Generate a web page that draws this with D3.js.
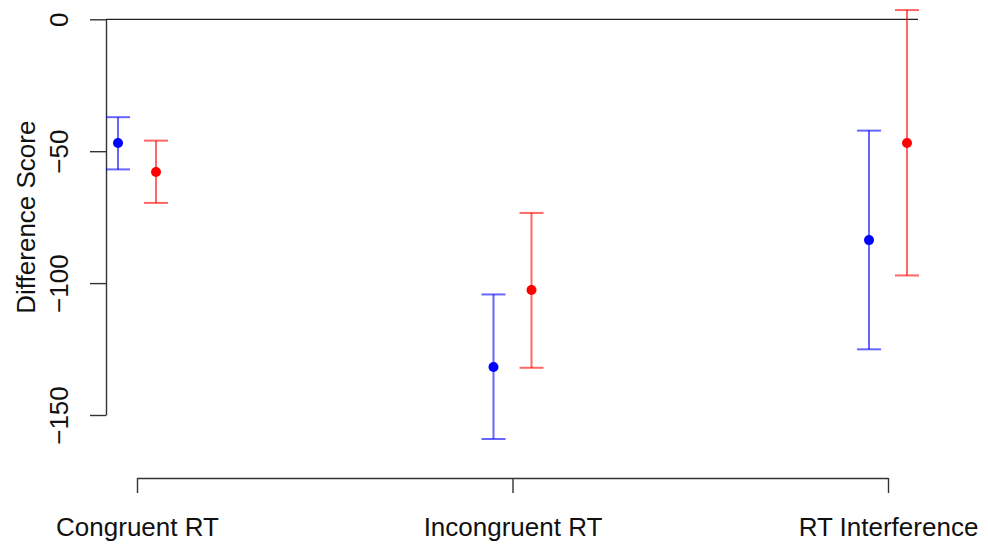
<!DOCTYPE html>
<html>
<head>
<meta charset="utf-8">
<script src="https://cdn.jsdelivr.net/npm/d3@7"></script>
<style>
  body { margin: 0; background: #fff; }
  svg { display: block; font-family: "Liberation Sans", Arial, sans-serif; }
</style>
</head>
<body>
<div id="chart"></div>
<script>
// values
var categories = ['Congruent RT', 'Incongruent RT', 'RT Interference'];
var blueMean = [-46.9, -131.8, -83.7];
var blueLo   = [-56.9, -159.1, -125.1];
var blueHi   = [-37.1, -104.3, -42.2];
var redMean  = [-57.9, -102.6, -46.9];
var redLo    = [-69.6, -132.1, -97.1];
var redHi    = [-46.0, -73.4, 3.5];
var yTicks   = [0, -50, -100, -150];

var width = 988, height = 545;
var plotLeft = 106, plotRight = 918;
var xAxisY = 478;
var offset = 19, capHalf = 12;

var x = d3.scalePoint()
    .domain(categories)
    .range([137, 888]);

var y = d3.scaleLinear()
    .domain([-150, 0])
    .range([415, 19.3]);

var svg = d3.select('#chart').append('svg')
    .attr('width', width)
    .attr('height', height);

// zero reference line
svg.append('line')
    .attr('x1', plotLeft).attr('x2', plotRight)
    .attr('y1', y(0)).attr('y2', y(0))
    .attr('stroke', '#222')
    .attr('stroke-width', 1.3);

// y axis
var yAxis = d3.axisLeft(y)
    .tickValues(yTicks)
    .tickSize(16)
    .tickSizeOuter(0)
    .tickFormat(d3.format('d'));

var gy = svg.append('g')
    .attr('transform', 'translate(' + plotLeft + ',0)')
    .call(yAxis);
gy.select('.domain').attr('stroke', '#333').attr('stroke-width', 1.4);
gy.selectAll('.tick line').attr('stroke', '#333').attr('stroke-width', 1.4);
gy.selectAll('.tick text')
    .attr('x', null).attr('dy', null)
    .attr('transform', 'translate(-38,0) rotate(-90)')
    .attr('text-anchor', 'middle')
    .attr('fill', '#111')
    .style('font-size', '26px');

// x axis
var xAxis = d3.axisBottom(x)
    .tickSize(15)
    .tickSizeOuter(0);

var gx = svg.append('g')
    .attr('transform', 'translate(0,' + xAxisY + ')')
    .call(xAxis);
gx.select('.domain').attr('stroke', '#333').attr('stroke-width', 1.4);
gx.selectAll('.tick line').attr('stroke', '#333').attr('stroke-width', 1.4);
gx.selectAll('.tick text')
    .attr('y', 58).attr('dy', null)
    .attr('fill', '#111')
    .style('font-size', '26px');

// y label
svg.append('text')
    .attr('transform', 'translate(35,' + (y(0) + y(-150)) / 2 + ') rotate(-90)')
    .attr('text-anchor', 'middle')
    .attr('fill', '#111')
    .style('font-size', '26px')
    .text('Difference Score');

function drawSeries(mean, lo, hi, color, dx) {
  var rows = categories.map(function (c, i) {
    return { cat: c, mean: mean[i], lo: lo[i], hi: hi[i] };
  });
  var g = svg.append('g');
  var bars = g.selectAll('g.bar').data(rows).enter().append('g')
      .attr('class', 'bar')
      .attr('stroke', color)
      .attr('stroke-opacity', 0.6)
      .attr('stroke-width', 2);
  bars.append('line')
      .attr('x1', function (d) { return x(d.cat) + dx; })
      .attr('x2', function (d) { return x(d.cat) + dx; })
      .attr('y1', function (d) { return y(d.lo); })
      .attr('y2', function (d) { return y(d.hi); });
  bars.append('line')
      .attr('x1', function (d) { return x(d.cat) + dx - capHalf; })
      .attr('x2', function (d) { return x(d.cat) + dx + capHalf; })
      .attr('y1', function (d) { return y(d.hi); })
      .attr('y2', function (d) { return y(d.hi); });
  bars.append('line')
      .attr('x1', function (d) { return x(d.cat) + dx - capHalf; })
      .attr('x2', function (d) { return x(d.cat) + dx + capHalf; })
      .attr('y1', function (d) { return y(d.lo); })
      .attr('y2', function (d) { return y(d.lo); });
  g.selectAll('circle').data(rows).enter().append('circle')
      .attr('cx', function (d) { return x(d.cat) + dx; })
      .attr('cy', function (d) { return y(d.mean); })
      .attr('r', 5)
      .attr('fill', color);
}

drawSeries(blueMean, blueLo, blueHi, '#0000ff', -offset);
drawSeries(redMean, redLo, redHi, '#ff0000', offset);
</script>
</body>
</html>
